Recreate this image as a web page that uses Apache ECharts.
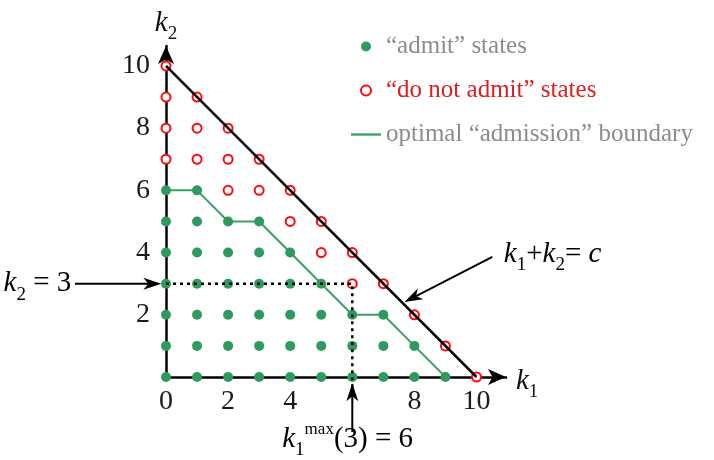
<!DOCTYPE html>
<html>
<head>
<meta charset="utf-8">
<script src="https://cdn.jsdelivr.net/npm/echarts@6/dist/echarts.min.js"></script>
<style>
html, body { margin: 0; padding: 0; background: #fff; }
#chart { width: 714px; height: 460px; }
</style>
</head>
<body>
<div id="chart"></div>
<script>
// k1 column index and the k2 states in each column
const k1Values = [0, 1, 2, 3, 4, 5, 6, 7, 8, 9, 10];
const admitK2 = [
  [0, 1, 2, 3, 4, 5, 6],
  [0, 1, 2, 3, 4, 5, 6],
  [0, 1, 2, 3, 4, 5],
  [0, 1, 2, 3, 4, 5],
  [0, 1, 2, 3, 4],
  [0, 1, 2, 3],
  [0, 1, 2],
  [0, 1, 2],
  [0, 1],
  [0],
  []
];
const rejectK2 = [
  [7, 8, 9, 10],
  [7, 8, 9],
  [6, 7, 8],
  [6, 7],
  [5, 6],
  [4, 5],
  [3, 4],
  [3],
  [2],
  [1],
  [0]
];
const boundaryK1 = [0, 1, 2, 3, 4, 5, 6, 7, 8, 9];
const boundaryK2 = [6, 6, 5, 5, 4, 3, 2, 2, 1, 0];
const capacityLine = [[0, 10], [10, 0]];
const thresholdK2 = 3;
const thresholdK1Max = 6;
const xTickLabels = [0, 2, 4, 8, 10];
const yTickLabels = [2, 4, 6, 8, 10];

const serif = "'Liberation Serif', 'DejaVu Serif', serif";
const green = '#2e9a5e';
const red = '#ff0a0a';
const grey = '#8c8c8c';

const admitPoints = [];
const rejectPoints = [];
k1Values.forEach((k1, i) => {
  admitK2[i].forEach(k2 => admitPoints.push([k1, k2]));
  rejectK2[i].forEach(k2 => rejectPoints.push([k1, k2]));
});
const boundaryPoints = boundaryK1.map((k1, i) => [k1, boundaryK2[i]]);
const thresholdPath = [[0, thresholdK2], [thresholdK1Max, thresholdK2], [thresholdK1Max, -0.35]];

const rich = {
  k: { fontFamily: serif, fontStyle: 'italic', fontSize: 29, lineHeight: 30, color: '#111' },
  s: { fontFamily: serif, fontSize: 19, lineHeight: 19, padding: [22, 0, 0, 0], color: '#111' },
  p: { fontFamily: serif, fontSize: 17, lineHeight: 17, padding: [0, 0, 20, 0], color: '#111' },
  n: { fontFamily: serif, fontSize: 29, lineHeight: 30, color: '#111' }
};

function axisLabelFor(labels, margin) {
  return {
    fontFamily: serif,
    fontSize: 28,
    color: '#1a1a1a',
    margin: margin,
    formatter: v => (labels.includes(v) ? String(v) : '')
  };
}

const axisCommon = {
  type: 'value',
  min: 0,
  interval: 2,
  splitLine: { show: false },
  axisTick: { show: false },
  axisLine: {
    show: true,
    symbol: ['none', 'arrow'],
    symbolSize: [12, 18],
    lineStyle: { color: '#000', width: 2.5 }
  },
  nameLocation: 'end'
};

const chart = echarts.init(document.getElementById('chart'));

chart.setOption({
  animation: false,
  grid: { left: 166, right: 208, top: 46, bottom: 83 },
  xAxis: Object.assign({}, axisCommon, {
    max: 10.95,
    name: '{k|k}{s|1}',
    nameGap: 10,
    nameTextStyle: { rich: rich, padding: [8, 0, 0, 0] },
    axisLabel: axisLabelFor(xTickLabels, 11)
  }),
  yAxis: Object.assign({}, axisCommon, {
    max: 10.64,
    name: '{k|k}{s|2}',
    nameGap: 8,
    nameTextStyle: { rich: rich },
    axisLabel: axisLabelFor(yTickLabels, 16)
  }),
  legend: {
    orient: 'vertical',
    left: 346,
    top: 29,
    itemWidth: 30,
    itemHeight: 10,
    itemGap: 19,
    selectedMode: false,
    textStyle: { fontFamily: serif, fontSize: 25, color: grey },
    data: [
      { name: '“admit” states' },
      { name: '“do not admit” states', textStyle: { color: '#dd2020' } },
      { name: 'optimal “admission” boundary', icon: 'path://M0,0 L26,0 L26,2 L0,2 Z' }
    ]
  },
  series: [
    {
      name: 'optimal “admission” boundary',
      type: 'line',
      data: boundaryPoints,
      symbol: 'none',
      lineStyle: { color: '#3a9f69', width: 2 },
      itemStyle: { color: '#3a9f69' },
      z: 2
    },
    {
      name: '“admit” states',
      type: 'scatter',
      data: admitPoints,
      symbol: 'circle',
      symbolSize: 10,
      itemStyle: { color: green, opacity: 1 },
      z: 3
    },
    {
      name: '“do not admit” states',
      type: 'scatter',
      data: rejectPoints,
      symbol: 'emptyCircle',
      symbolSize: 9,
      itemStyle: { color: red, borderColor: red, borderWidth: 2.5, opacity: 1 },
      z: 3
    },
    {
      name: 'capacity',
      type: 'line',
      data: capacityLine,
      symbol: 'none',
      silent: true,
      lineStyle: { color: '#000', width: 2.5 },
      z: 4
    },
    {
      name: 'threshold',
      type: 'line',
      data: thresholdPath,
      symbol: 'none',
      silent: true,
      clip: false,
      lineStyle: { color: '#000', width: 2.5, type: [3, 4] },
      z: 5
    }
  ]
});

// annotation arrows, placed through the grid's own scale
function arrow(fromData, toData) {
  const a = chart.convertToPixel({ gridIndex: 0 }, fromData);
  const b = chart.convertToPixel({ gridIndex: 0 }, toData);
  const dx = b[0] - a[0], dy = b[1] - a[1];
  const len = Math.hypot(dx, dy), ux = dx / len, uy = dy / len;
  const L = 18, W = 6, notch = 5;
  const base = [b[0] - ux * L, b[1] - uy * L];
  const left = [base[0] - uy * W, base[1] + ux * W];
  const right = [base[0] + uy * W, base[1] - ux * W];
  const inner = [b[0] - ux * (L - notch), b[1] - uy * (L - notch)];
  return [
    { type: 'line', z: 10, shape: { x1: a[0], y1: a[1], x2: inner[0], y2: inner[1] }, style: { stroke: '#000', lineWidth: 2 } },
    { type: 'polygon', z: 10, shape: { points: [b, left, inner, right] }, style: { fill: '#000' } }
  ];
}

function label(at, text, align) {
  const p = chart.convertToPixel({ gridIndex: 0 }, at);
  return { type: 'text', z: 10, x: p[0], y: p[1], style: { text: text, rich: rich, align: align, verticalAlign: 'middle' } };
}

chart.setOption({
  graphic: [].concat(
    arrow([-2.93, thresholdK2], [-0.15, thresholdK2]),
    arrow([10.51, 3.86], [7.68, 2.41]),
    arrow([thresholdK1Max, -1.77], [thresholdK1Max, -0.2]),
    label([-3.05, thresholdK2], '{k|k}{s|2}{n| = 3}', 'right'),
    label([10.88, 3.95], '{k|k}{s|1}{n|+}{k|k}{s|2}{n|= }{k|c}', 'left'),
    label([5.85, -2.0], '{k|k}{s|1}{p|max}{n|(3) = 6}', 'center')
  )
});

window.onresize = () => chart.resize();
</script>
</body>
</html>
